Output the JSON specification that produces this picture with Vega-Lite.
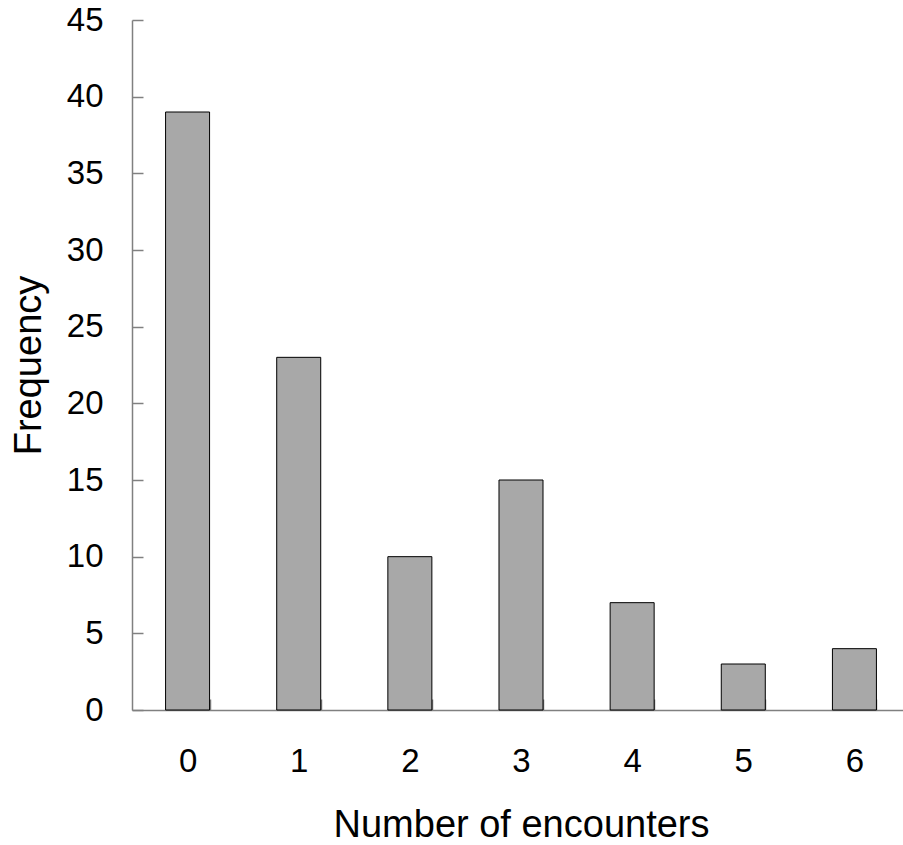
{
  "$schema": "https://vega.github.io/schema/vega-lite/v6.json",
  "width": 771,
  "height": 690,
  "autosize": {"type": "none"},
  "padding": {"left": 132, "top": 20, "right": 0, "bottom": 135},
  "background": "white",
  "config": {"view": {"stroke": null}, "font": "Liberation Sans"},
  "data": {
    "values": [
      {"encounters": "0", "frequency": 39},
      {"encounters": "1", "frequency": 23},
      {"encounters": "2", "frequency": 10},
      {"encounters": "3", "frequency": 15},
      {"encounters": "4", "frequency": 7},
      {"encounters": "5", "frequency": 3},
      {"encounters": "6", "frequency": 4}
    ]
  },
  "mark": {"type": "bar", "fill": "#a8a8a8", "stroke": "black", "strokeWidth": 1},
  "encoding": {
    "x": {
      "field": "encounters",
      "type": "ordinal",
      "scale": {"range": [0, 778], "paddingInner": 0.604, "paddingOuter": 0.302},
      "axis": {
        "title": "Number of encounters",
        "labelAngle": 0,
        "tickBand": "extent",
        "tickSize": -11,
        "domainColor": "#808080",
        "tickColor": "#808080",
        "domainWidth": 1.5,
        "tickWidth": 1.5,
        "labelFontSize": 33,
        "labelColor": "black",
        "labelPadding": 46,
        "titleFontSize": 38,
        "titleFontWeight": "normal",
        "titleColor": "black",
        "titlePadding": 28,
        "grid": false
      }
    },
    "y": {
      "field": "frequency",
      "type": "quantitative",
      "scale": {"domain": [0, 45], "nice": false},
      "axis": {
        "title": "Frequency",
        "values": [0, 5, 10, 15, 20, 25, 30, 35, 40, 45],
        "tickSize": -11,
        "domainColor": "#808080",
        "tickColor": "#808080",
        "domainWidth": 1.5,
        "tickWidth": 1.5,
        "labelFontSize": 33,
        "labelColor": "black",
        "labelPadding": 40,
        "titleFontSize": 38,
        "titleFontWeight": "normal",
        "titleColor": "black",
        "titlePadding": 18,
        "grid": false
      }
    }
  }
}
